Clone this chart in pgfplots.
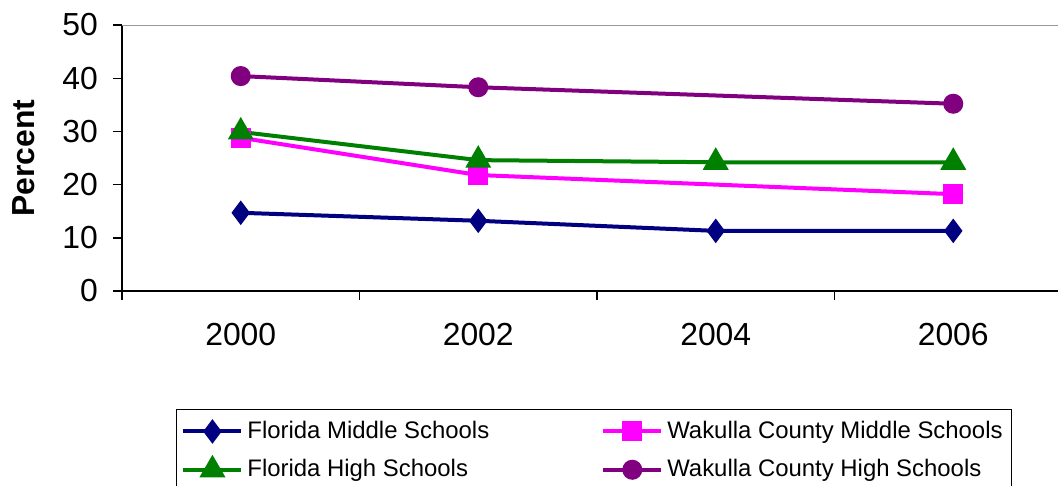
\documentclass[border=0pt]{standalone}
\usepackage{pgfplots}
\pgfplotsset{compat=1.18}
\usepackage{fontspec}
\setmainfont{Liberation Sans}
\definecolor{fmid}{RGB}{0,0,128}
\definecolor{wmid}{RGB}{255,0,255}
\definecolor{fhigh}{RGB}{0,128,0}
\definecolor{whigh}{RGB}{128,0,128}
\begin{document}
\begin{tikzpicture}
\useasboundingbox (0,0) rectangle (529bp,243bp);
\begin{axis}[
  at={(61bp,97.5bp)}, anchor=south west,
  scale only axis, width=475bp, height=133bp,
  xmin=-0.5, xmax=3.5, ymin=0, ymax=50,
  axis x line*=bottom, axis y line*=left,
  axis line style={-, black, line width=0.9bp},
  xtick={0,1,2,3}, xticklabels={2000,2002,2004,2006},
  major x tick style={draw=none},
  minor xtick={-0.5,0.5,1.5,2.5,3.5},
  ytick={0,10,20,30,40,50},
  tick align=outside,
  major tick length=4.5bp, minor tick length=4.5bp,
  tick style={black, line width=0.7bp},
  ticklabel style={font=\fontsize{16}{19}\selectfont},
  xticklabel style={yshift=-8bp},
  yticklabel style={xshift=-4bp},
  /pgf/number format/assume math mode=true,
  ylabel={Percent},
  ylabel style={font=\fontsize{16}{19}\selectfont\bfseries, at={(axis description cs:-0.103,0.5)}, anchor=center},
  legend columns=2,
  legend cell align=left,
  legend image code/.code={\draw[mark repeat=2,mark phase=2,#1] plot coordinates {(0bp,0bp)(14.5bp,0bp)(29bp,0bp)};},
  legend style={at={(axis description cs:0.0568,-0.443)}, anchor=north west, draw=black, line width=0.5bp,
    font=\fontsize{12}{14}\selectfont, inner xsep=2.5bp, inner ysep=4bp, row sep=5bp,
    /tikz/every even column/.append style={column sep=54bp}},
]
\draw[gray!80, line width=1bp] (rel axis cs:0,1) -- (rel axis cs:1,1);
\addplot[color=fmid, line width=2bp, mark=diamond*, mark size=4.5bp, mark options={solid}]
  coordinates {(0,14.7)(1,13.2)(2,11.3)(3,11.3)};
\addlegendentry{Florida Middle Schools}
\addplot[color=wmid, line width=2bp, mark=square*, mark size=4bp]
  coordinates {(0,28.8)(1,21.8)(3,18.2)};
\addlegendentry{Wakulla County Middle Schools}
\addplot[color=fhigh, line width=2bp, mark=triangle*, mark size=5.5bp]
  coordinates {(0,29.9)(1,24.6)(2,24.2)(3,24.2)};
\addlegendentry{Florida High Schools}
\addplot[color=whigh, line width=2bp, mark=*, mark size=4bp]
  coordinates {(0,40.4)(1,38.3)(3,35.2)};
\addlegendentry{Wakulla County High Schools}
\end{axis}
\end{tikzpicture}
\end{document}
